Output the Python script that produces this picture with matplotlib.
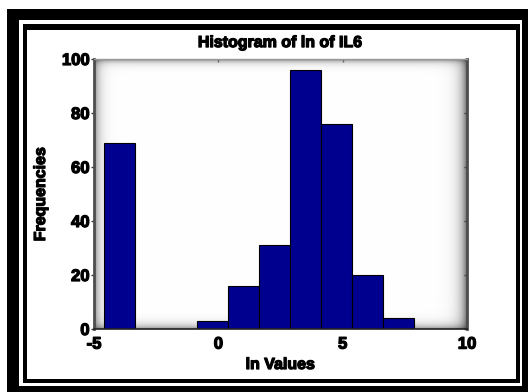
import numpy as np
import matplotlib
matplotlib.use("Agg")
import matplotlib.pyplot as plt
from matplotlib.patches import Rectangle
import matplotlib.patheffects as pe

plt.rcParams['font.family'] = ['Liberation Sans', 'DejaVu Sans']
plt.rcParams['axes.unicode_minus'] = False

# Histogram of ln(IL6): 10 equal-width bins
bin_lo, bin_hi = -4.605, 7.87
counts = [69, 0, 0, 3, 16, 31, 96, 76, 20, 4]
x_ticks = [-5, 0, 5, 10]
y_ticks = [0, 20, 40, 60, 80, 100]
title = "Histogram of ln of IL6"
x_label = "ln Values"
y_label = "Frequencies"

W, H = 528, 392
fig = plt.figure(figsize=(W / 100, H / 100), dpi=100, facecolor='white')


def frame_rect(x0, y0, x1, y1, color):
    # rectangle given in pixel coordinates from the top-left corner
    r = Rectangle((x0 / W, 1 - y1 / H), (x1 - x0) / W, (y1 - y0) / H,
                  transform=fig.transFigure, facecolor=color, edgecolor='none',
                  zorder=-10)
    fig.add_artist(r)


frame_rect(7, 9, 528, 392, 'black')
frame_rect(19, 20, 522, 386, 'white')
frame_rect(23, 24, 520, 383, 'black')
frame_rect(27, 30, 516, 379, 'white')

ax_l, ax_t, ax_r, ax_b = 94, 59, 467, 329
ax = fig.add_axes([ax_l / W, 1 - ax_b / H, (ax_r - ax_l) / W, (ax_b - ax_t) / H])
ax.set_facecolor('white')

# bevelled background shading of the plot area
pw, ph = ax_r - ax_l, ax_b - ax_t
xx = np.arange(pw)[None, :].astype(float)
yy = np.arange(ph)[:, None].astype(float)
shade = np.ones((ph, pw))
shade *= 1 - 0.45 * np.exp(-xx / 5.0)
shade *= 1 - 0.55 * np.exp(-(pw - 1 - xx) / 6.0)
shade *= 1 - 0.45 * np.exp(-yy / 3.0)
shade *= 1 - 0.40 * np.exp(-(ph - 1 - yy) / 4.0)
ax.imshow(np.dstack([shade] * 3), extent=[0, 1, 0, 1], transform=ax.transAxes,
          aspect='auto', interpolation='bilinear', zorder=0)

edges = np.linspace(bin_lo, bin_hi, len(counts) + 1)
ax.bar(edges[:-1], counts, width=np.diff(edges), align='edge',
       color='#00008f', edgecolor='black', linewidth=0.8, zorder=2)

ax.set_xlim(-5, 10)
ax.set_ylim(0, 100)
ax.set_xticks(x_ticks)
ax.set_yticks(y_ticks)

stroke = [pe.withStroke(linewidth=0.9, foreground='black')]
ax.tick_params(axis='y', direction='out', length=2.5, width=1, pad=0.8,
               color='#333333', labelsize=12)
ax.tick_params(axis='x', length=0, pad=5.5, labelsize=12)
for lab in ax.get_xticklabels() + ax.get_yticklabels():
    lab.set_fontweight('bold')
    lab.set_path_effects(stroke)

# inward ticks on top and right edges
top = ax.secondary_xaxis('top')
top.set_xticks(x_ticks)
top.tick_params(direction='in', length=2.5, width=1, color='#666666', labeltop=False)
right = ax.secondary_yaxis('right')
right.set_yticks(y_ticks)
right.tick_params(direction='in', length=2.5, width=1, color='#444444', labelright=False)
for sec in (top, right):
    for s in sec.spines.values():
        s.set_visible(False)

ax.spines['left'].set_color('#4d4d4d')
ax.spines['left'].set_linewidth(2)
ax.spines['right'].set_color('#4d4d4d')
ax.spines['right'].set_linewidth(2)
ax.spines['bottom'].set_color('#222222')
ax.spines['bottom'].set_linewidth(1.2)
ax.spines['top'].set_color('#999999')
ax.spines['top'].set_linewidth(1)

ax.set_title(title, fontsize=11.5, fontweight='bold', pad=8.6, path_effects=stroke)
ax.set_xlabel(x_label, fontsize=11.5, fontweight='bold', path_effects=stroke)
ax.set_ylabel(y_label, fontsize=11.5, fontweight='bold', path_effects=stroke)
ax.xaxis.set_label_coords(0.5, (ax_b - 357) / ph)
ax.xaxis.label.set_va('top')
ax.yaxis.set_label_coords((48 - ax_l) / pw, 0.5)

fig.savefig('out.png', dpi=100, facecolor='white')
